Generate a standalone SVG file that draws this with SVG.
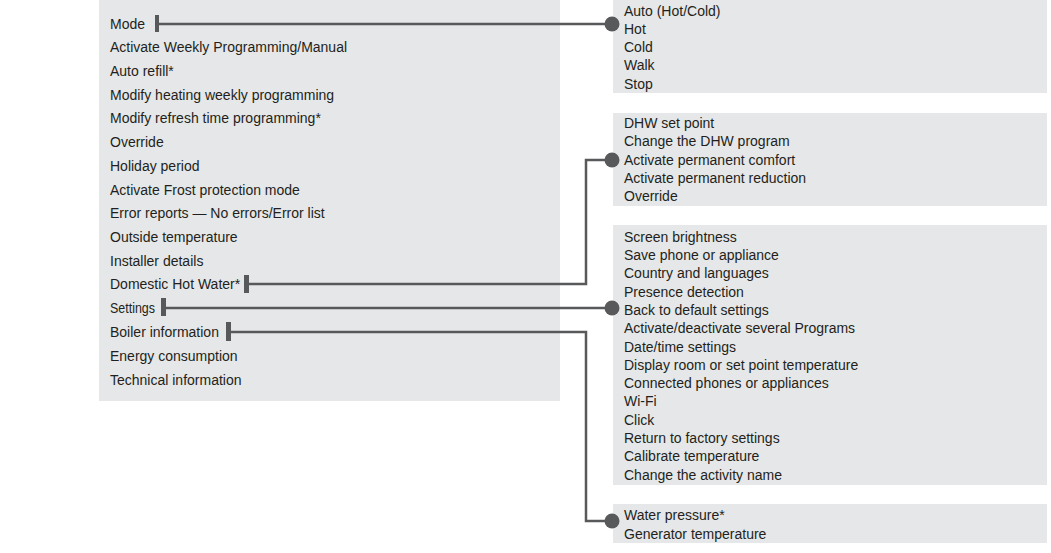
<svg xmlns="http://www.w3.org/2000/svg" width="1051" height="553" viewBox="0 0 1051 553">
<style>
.panel{fill:#e6e7e8}
.t{font-family:"Liberation Sans",Arial,sans-serif;font-size:14px;fill:#231f20}
.ln{fill:none;stroke:#58595b;stroke-width:2.5}
.tick{fill:#58595b}
.dot{fill:#58595b}
</style>
<rect width="1051" height="553" fill="#ffffff"/>
<g id="main-menu">
<rect class="panel" x="99" y="0" width="461" height="401"/>
<g class="t">
<text x="110" y="29">Mode</text>
<text x="110" y="52">Activate Weekly Programming/Manual</text>
<text x="110" y="76">Auto refill*</text>
<text x="110" y="100">Modify heating weekly programming</text>
<text x="110" y="123">Modify refresh time programming*</text>
<text x="110" y="147">Override</text>
<text x="110" y="171">Holiday period</text>
<text x="110" y="195">Activate Frost protection mode</text>
<text x="110" y="218">Error reports — No errors/Error list</text>
<text x="110" y="242">Outside temperature</text>
<text x="110" y="266">Installer details</text>
<text x="110" y="289">Domestic Hot Water*</text>
<text x="110" y="313" textLength="45" lengthAdjust="spacingAndGlyphs">Settings</text>
<text x="110" y="337">Boiler information</text>
<text x="110" y="361">Energy consumption</text>
<text x="110" y="385">Technical information</text>
</g>
</g>
<g id="mode-submenu">
<rect class="panel" x="613" y="0" width="434" height="93"/>
<g class="t">
<text x="624" y="16">Auto (Hot/Cold)</text>
<text x="624" y="34">Hot</text>
<text x="624" y="52">Cold</text>
<text x="624" y="70">Walk</text>
<text x="624" y="89">Stop</text>
</g>
</g>
<g id="dhw-submenu">
<rect class="panel" x="613" y="113" width="434" height="93"/>
<g class="t">
<text x="624" y="128">DHW set point</text>
<text x="624" y="146">Change the DHW program</text>
<text x="624" y="165">Activate permanent comfort</text>
<text x="624" y="183">Activate permanent reduction</text>
<text x="624" y="201">Override</text>
</g>
</g>
<g id="settings-submenu">
<rect class="panel" x="613" y="225" width="434" height="260"/>
<g class="t">
<text x="624" y="242">Screen brightness</text>
<text x="624" y="260">Save phone or appliance</text>
<text x="624" y="278">Country and languages</text>
<text x="624" y="297">Presence detection</text>
<text x="624" y="315">Back to default settings</text>
<text x="624" y="333">Activate/deactivate several Programs</text>
<text x="624" y="352">Date/time settings</text>
<text x="624" y="370">Display room or set point temperature</text>
<text x="624" y="388">Connected phones or appliances</text>
<text x="624" y="406">Wi-Fi</text>
<text x="624" y="425">Click</text>
<text x="624" y="443">Return to factory settings</text>
<text x="624" y="461">Calibrate temperature</text>
<text x="624" y="480">Change the activity name</text>
</g>
</g>
<g id="boiler-submenu">
<rect class="panel" x="613" y="504" width="434" height="39"/>
<g class="t">
<text x="624" y="520">Water pressure*</text>
<text x="624" y="539">Generator temperature</text>
</g>
</g>
<g id="connectors">
<rect class="tick" x="155" y="15" width="4" height="17"/>
<path class="ln" d="M159 24 H612"/>
<circle class="dot" cx="612" cy="24" r="7.5"/>
<rect class="tick" x="244" y="275" width="5" height="18"/>
<path class="ln" d="M249 284 H586 V160 H612"/>
<circle class="dot" cx="612" cy="160" r="7.5"/>
<rect class="tick" x="161" y="298" width="5" height="18"/>
<path class="ln" d="M166 308 H612"/>
<circle class="dot" cx="612" cy="308" r="7.5"/>
<rect class="tick" x="226" y="322" width="5" height="19"/>
<path class="ln" d="M231 332 H586 V521 H612"/>
<circle class="dot" cx="612" cy="521" r="7.5"/>
</g>
</svg>
